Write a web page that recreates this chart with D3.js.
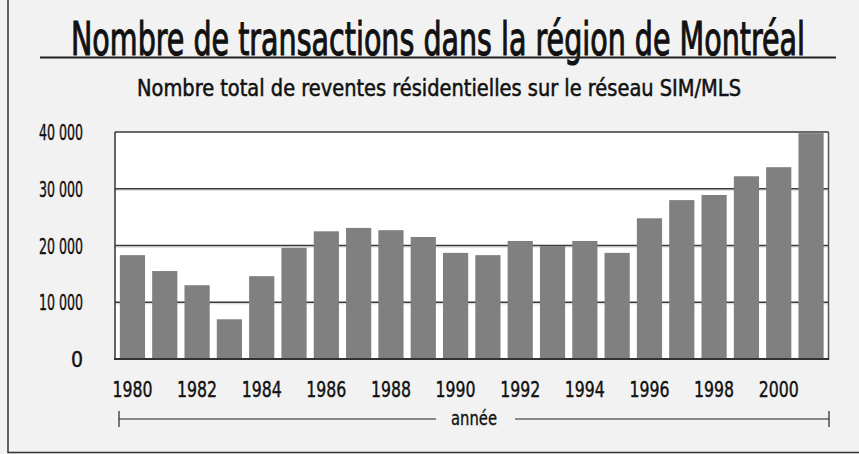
<!DOCTYPE html>
<html><head><meta charset="utf-8">
<script src="https://cdn.jsdelivr.net/npm/d3@7"></script>
<style>body{margin:0;background:#f2f2f2;}svg{display:block;}</style>
</head><body>
<script>
const years = [1980,1981,1982,1983,1984,1985,1986,1987,1988,1989,1990,1991,1992,1993,1994,1995,1996,1997,1998,1999,2000,2001];
const ventes = [18300,15500,13000,7000,14600,19600,22500,23100,22700,21500,18700,18300,20800,19900,20800,18700,24800,28000,28900,32200,33800,39800];
const yTicks = [0,10000,20000,30000,40000];
const xTickYears = [1980,1982,1984,1986,1988,1990,1992,1994,1996,1998,2000];
const titre = "Nombre de transactions dans la région de Montréal";
const sousTitre = "Nombre total de reventes résidentielles sur le réseau SIM/MLS";
const axeX = "année";

const W = 859, H = 454;
const svg = d3.select("body").append("svg").attr("width", W).attr("height", H);
svg.append("rect").attr("width", W).attr("height", H).attr("fill", "#f2f2f2");

const font = "'DejaVu Sans Condensed', 'DejaVu Sans', sans-serif";
function fit(sel, w){ sel.attr("textLength", w).attr("lengthAdjust", "spacingAndGlyphs"); }
function heavy(sel, sw){ sel.attr("stroke", "#111").attr("stroke-width", sw).attr("paint-order", "stroke"); }

// frame
svg.append("path").attr("d", `M8,0 V452.5 H${W}`).attr("fill","none").attr("stroke","#333").attr("stroke-width",1.5);

// title
svg.append("text").attr("x", 71).attr("y", 55).attr("font-family", font).attr("font-size", 47)
  .attr("fill", "#111").text(titre).call(fit, 734).call(heavy, 1.1);
svg.append("line").attr("x1", 40).attr("x2", 836).attr("y1", 57.5).attr("y2", 57.5)
  .attr("stroke", "#222").attr("stroke-width", 2);
svg.append("text").attr("x", 137).attr("y", 96).attr("font-family", font).attr("font-size", 23)
  .attr("fill", "#111").text(sousTitre).call(fit, 604).call(heavy, 0.5);

// scales
const x = d3.scaleBand().domain(years).range([115, 828.5]).paddingInner(0.22).paddingOuter(0.15);
const y = d3.scaleLinear().domain([0, 40000]).range([359, 132]);

// plot bg
svg.append("rect").attr("x", 115).attr("y", y(40000)).attr("width", 828.5-115).attr("height", y(0)-y(40000)).attr("fill", "#fff");

// grid
const g = svg.append("g");
g.selectAll("line.light").data(yTicks.slice(1,4)).join("line").attr("class","light")
  .attr("x1",115).attr("x2",828.5).attr("y1", d=>y(d)+1.5).attr("y2", d=>y(d)+1.5)
  .attr("stroke","#d0d0d0").attr("stroke-width",1.2);
g.selectAll("line.dark").data(yTicks.slice(1)).join("line").attr("class","dark")
  .attr("x1",115).attr("x2",828.5).attr("y1", d=>y(d)).attr("y2", d=>y(d))
  .attr("stroke","#3a3a3a").attr("stroke-width",1.4);

// bars
svg.append("g").selectAll("rect").data(years).join("rect")
  .attr("x", d=>x(d)).attr("width", x.bandwidth())
  .attr("y", (d,i)=>y(ventes[i])).attr("height", (d,i)=>y(0)-y(ventes[i]))
  .attr("fill", "#808080");

// borders
svg.append("line").attr("x1",115).attr("x2",115).attr("y1",y(40000)).attr("y2",y(0)+1).attr("stroke","#333").attr("stroke-width",1.5);
svg.append("line").attr("x1",828.5).attr("x2",828.5).attr("y1",y(40000)).attr("y2",y(0)+1).attr("stroke","#555").attr("stroke-width",1.5);
svg.append("line").attr("x1",114).attr("x2",829).attr("y1",y(0)).attr("y2",y(0)).attr("stroke","#333").attr("stroke-width",2);

// y axis labels
const fmt = d => d === 0 ? "0" : d3.format(",")(d).replace(",", " ");
const yAxis = d3.axisLeft(y).tickValues(yTicks).tickFormat(fmt).tickSize(0).tickPadding(0);
const ya = svg.append("g").attr("transform", "translate(83,0)").call(yAxis);
ya.select(".domain").remove();
ya.selectAll("text").attr("font-family", font).attr("font-size", 21).attr("fill", "#111")
  .attr("dy", "0.36em").call(heavy, 0.4).each(function(d){ if(d!==0) d3.select(this).call(fit, 44); });

// x axis labels
const xAxis = d3.axisBottom(x).tickValues(xTickYears).tickSize(0).tickPadding(0);
const xa = svg.append("g").attr("transform", "translate(0,382)").call(xAxis);
xa.select(".domain").remove();
xa.selectAll("text").attr("font-family", font).attr("font-size", 21).attr("fill", "#111")
  .attr("dy", "0.71em").call(fit, 40).call(heavy, 0.4);

// année line
const ly = 419;
const lx1 = 119, lx2 = 829;
const mid = (lx1 + lx2) / 2;
svg.append("line").attr("x1", lx1).attr("x2", mid-38).attr("y1", ly).attr("y2", ly).attr("stroke", "#888").attr("stroke-width", 2);
svg.append("line").attr("x1", mid+41).attr("x2", lx2).attr("y1", ly).attr("y2", ly).attr("stroke", "#888").attr("stroke-width", 2);
[lx1, lx2].forEach(px => svg.append("line").attr("x1", px).attr("x2", px).attr("y1", ly-8).attr("y2", ly+8).attr("stroke", "#333").attr("stroke-width", 1.3));
svg.append("text").attr("x", mid).attr("y", ly+6).attr("text-anchor", "middle").attr("font-family", font)
  .attr("font-size", 19).attr("fill", "#111").text(axeX).call(fit, 46).call(heavy, 0.3);
</script>
</body></html>
